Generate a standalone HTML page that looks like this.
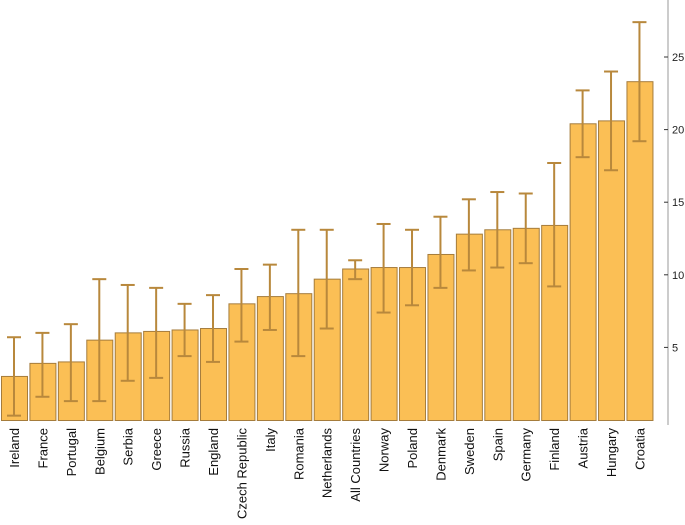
<!DOCTYPE html>
<html><head><meta charset="utf-8"><style>
body{margin:0;background:#fff;}
svg{display:block;font-family:"Liberation Sans",Arial,sans-serif;}
</style></head><body>
<svg id="chart" width="685" height="525"></svg>
<script>
const categories=["Ireland","France","Portugal","Belgium","Serbia","Greece","Russia","England","Czech Republic","Italy","Romania","Netherlands","All Countries","Norway","Poland","Denmark","Sweden","Spain","Germany","Finland","Austria","Hungary","Croatia"];
const values=[3.0,3.9,4.0,5.5,6.0,6.1,6.2,6.3,8.0,8.5,8.7,9.7,10.4,10.5,10.5,11.4,12.8,13.1,13.2,13.4,20.4,20.6,23.3];
const lower=[0.3,1.6,1.3,1.3,2.7,2.9,4.4,4.0,5.4,6.2,4.4,6.3,9.7,7.4,7.9,9.1,10.3,10.5,10.8,9.2,18.1,17.2,19.2];
const upper=[5.7,6.0,6.6,9.7,9.3,9.1,8.0,8.6,10.4,10.7,13.1,13.1,11.0,13.5,13.1,14.0,15.2,15.7,15.6,17.7,22.7,24.0,27.4];
const ticks=[5,10,15,20,25];
const NS="http://www.w3.org/2000/svg";
const svg=document.getElementById("chart");
const y=v=>420-v*14.52;
const x0=1,pitch=28.43,bw=26;
function mk(t,a){const e=document.createElementNS(NS,t);for(const k in a)e.setAttribute(k,a[k]);svg.appendChild(e);return e;}
const ax=mk("line",{x1:668,y1:0,x2:668,y2:425,stroke:"#999","stroke-width":1});


ticks.forEach(t=>{
 const l=mk("line",{x1:664,y1:y(t),x2:668,y2:y(t),stroke:"#333","stroke-width":1});
 
 
 const tx=mk("text",{x:672,y:y(t)+4,"font-size":11,fill:"#222"});
 tx.textContent=t;
 
 
});
categories.forEach((c,i)=>{
 const bx=x0+i*pitch, cx=bx+bw/2;
 const r=mk("rect",{x:bx+0.5,y:y(values[i]),width:bw,height:420.5-y(values[i]),fill:"#fbbf55",stroke:"#a57c3c","stroke-width":1});
 
 
 const g=document.createElementNS(NS,"g");svg.appendChild(g);
 
 
 [[cx,y(lower[i]),cx,y(upper[i])],[cx-7,y(lower[i]),cx+7,y(lower[i])],[cx-7,y(upper[i]),cx+7,y(upper[i])]].forEach(p=>{
  const l=document.createElementNS(NS,"line");
  l.setAttribute("x1",p[0]);l.setAttribute("y1",p[1]);l.setAttribute("x2",p[2]);l.setAttribute("y2",p[3]);
  l.setAttribute("stroke","#b8883c");l.setAttribute("stroke-width","2");g.appendChild(l);
 });
 const t=mk("text",{transform:`translate(${cx+5},428) rotate(-90)`,"text-anchor":"end","font-size":13,fill:"#111"});
 t.textContent=c;
 
 
});
</script>
</body></html>
